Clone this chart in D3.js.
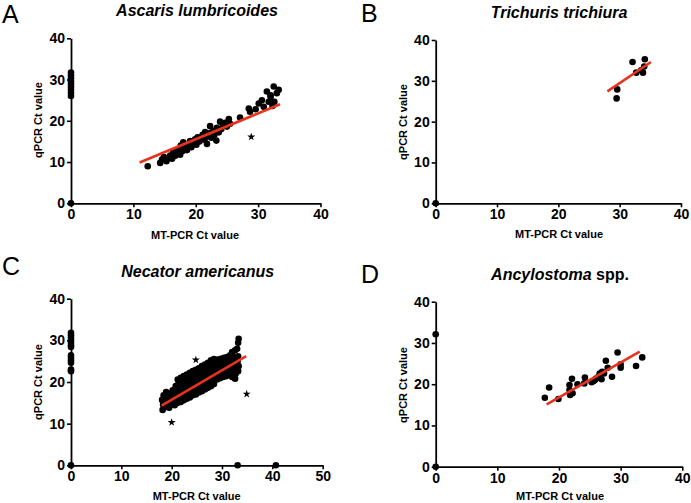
<!DOCTYPE html>
<html><head><meta charset="utf-8">
<script src="https://cdn.jsdelivr.net/npm/d3@7"></script>
<style>
html,body{margin:0;padding:0;background:#fff;}
svg{display:block;font-family:"Liberation Sans",Arial,Helvetica,sans-serif;}
</style></head>
<body>
<svg id="chart" width="691" height="503"></svg>
<script>
// ---------- data ----------
const panelLetters = ["A", "B", "C", "D"];
const speciesItalic = ["Ascaris lumbricoides", "Trichuris trichiura", "Necator americanus", "Ancylostoma"];
const speciesSuffix = ["", "", "", " spp."];
const xLabel = "MT-PCR Ct value";
const yLabel = "qPCR Ct value";
const xTicksAB = [0, 10, 20, 30, 40];
const xTicksC = [0, 10, 20, 30, 40, 50];
const yTicks = [0, 10, 20, 30, 40];

const pointsA = [[0,0],[0,26.0],[0,26.8],[0,27.5],[0,28.2],[0,28.9],[0,29.6],[0,30.3],[0,31.0],[0,31.7],
[12.3,9.0],[14.3,9.8],[14.6,10.6],[14.9,11.2],[15.3,10.2],[15.6,10.9],[15.9,11.6],[16.2,10.8],[16.4,12.4],[16.7,11.5],
[17.0,12.2],[17.2,13.0],[17.5,11.8],[17.6,14.0],[17.9,12.7],[18.0,14.8],[18.3,13.4],[18.6,12.9],[18.8,14.2],[19.1,15.1],
[19.3,13.6],[19.6,14.6],[19.9,15.5],[20.1,14.2],[20.3,16.0],[20.6,15.0],[20.9,15.7],[21.1,16.6],[21.4,15.4],[21.5,17.3],
[21.8,14.4],[21.9,16.2],[22.2,17.0],[22.3,18.7],[22.5,15.9],[22.8,17.6],[23.0,16.6],[23.3,15.2],[23.4,18.3],[23.7,17.2],
[23.9,19.8],[24.1,18.0],[24.4,18.8],[24.7,19.5],[25.0,18.6],[25.3,20.4],[25.5,19.3],[27.1,20.8],[28.5,23.0],[28.7,22.2],
[29.6,22.8],[30.1,24.2],[30.6,25.0],[30.9,23.4],[31.4,27.1],[31.7,24.6],[32.0,25.8],[32.3,23.6],[32.5,28.3],[32.6,24.6],
[33.0,26.7],[33.3,27.5],[32.0,26.2]];
const starsA = [[28.9,16.1]];
const fitA = [[11.0,9.9],[33.5,24.0]];

const pointsB = [[0,0],[29.5,25.7],[29.6,27.9],[32.1,34.6],[32.7,32.0],[33.8,32.0],[34.1,35.3],[34.0,33.5],[33.5,32.6]];
const starsB = [];
const fitB = [[28.0,27.4],[35.1,34.6]];

const pointsC = [[0,0],[0,31.8],[0,31.2],[0,30.6],[0,30.0],[0,29.4],[0,28.8],[0,28.4],[0,26.4],[0,25.8],[0,25.2],[0,24.6],[0,23.0],[0,22.6],
[33.1,0],[40.7,0],
[18.2,13.3],[18.3,14.6],[18.1,15.7],[18.4,16.8],[18.9,14.0],[18.8,15.3],[19.0,16.3],[18.9,17.6],[19.5,13.8],[19.4,15.1],[19.6,16.2],[19.3,17.2],
[20.0,14.6],[20.1,15.8],[19.9,17.1],[20.2,18.0],[20.6,14.4],[20.7,15.6],[20.5,16.7],[20.6,17.9],[20.8,19.0],
[21.2,15.0],[21.3,16.2],[21.1,17.4],[21.2,18.6],[21.4,19.8],[21.2,20.6],[21.8,15.2],[21.9,16.5],[21.7,17.6],[21.8,18.8],[22.0,20.0],[21.8,21.0],
[22.4,15.6],[22.5,16.9],[22.3,18.1],[22.4,19.3],[22.6,20.5],[22.4,21.4],[23.0,16.0],[23.1,17.2],[22.9,18.4],[23.0,19.6],[23.2,20.8],[23.0,21.8],
[23.6,16.3],[23.7,17.5],[23.5,18.8],[23.6,20.0],[23.8,21.2],[23.6,22.2],[24.2,16.8],[24.3,18.0],[24.1,19.2],[24.2,20.4],[24.4,21.6],[24.2,22.6],
[24.8,17.0],[24.9,18.3],[24.7,19.5],[24.8,20.7],[25.0,21.9],[24.8,22.9],[25.4,17.5],[25.5,18.7],[25.3,19.9],[25.4,21.1],[25.6,22.3],[25.4,23.3],
[26.0,17.8],[26.1,19.0],[25.9,20.2],[26.0,21.4],[26.2,22.6],[26.0,23.8],[26.6,18.2],[26.7,19.4],[26.5,20.6],[26.6,21.8],[26.8,23.0],[26.6,24.2],
[27.2,18.6],[27.3,19.8],[27.1,21.0],[27.2,22.2],[27.4,23.4],[27.2,24.6],[27.8,19.0],[27.9,20.3],[27.7,21.5],[27.8,22.7],[28.0,23.9],[27.8,25.2],
[28.4,19.5],[28.5,20.7],[28.3,21.9],[28.4,23.1],[28.6,24.3],[28.4,25.5],[29.0,20.6],[29.1,21.8],[28.9,23.0],[29.0,24.2],[29.2,25.4],
[29.6,20.9],[29.7,22.1],[29.5,23.3],[29.6,24.5],[29.8,25.6],[30.2,21.2],[30.3,22.4],[30.1,23.6],[30.2,24.8],[30.4,25.8],
[30.8,21.4],[30.9,22.6],[30.7,23.8],[30.8,25.0],[31.0,26.0],[31.4,21.8],[31.5,23.0],[31.3,24.2],[31.4,25.4],[31.6,26.4],
[32.0,21.2],[32.1,22.4],[31.9,23.6],[32.0,24.8],[32.2,26.0],[32.0,27.2],[32.6,20.8],[32.7,22.0],[32.5,23.2],[32.6,24.6],[32.8,25.8],[32.6,27.6],
[33.2,22.6],[33.3,23.8],[33.1,25.0],[33.2,26.2],[33.0,28.0],[33.2,29.4],[33.3,30.4]];
const starsC = [[20.0,10.3],[24.8,25.3],[34.9,17.1]];
const fitC = [[18.0,14.3],[34.8,26.2]];

const pointsD = [[0,0],[0,32.1],[17.7,16.7],[18.4,19.2],[19.9,16.4],[22.1,21.3],[21.7,19.8],[21.7,18.6],[21.8,17.4],[22.2,17.8],
[24.1,20.2],[24.2,21.6],[25.3,20.5],[25.8,21.0],[26.4,21.8],[26.6,22.6],[27.3,22.6],[27.6,25.7],[27.9,24.0],[28.6,21.8],
[29.5,27.7],[30.0,24.0],[30.0,24.8],[32.5,24.4],[33.5,26.5],[26.0,21.4],[26.9,21.2],[27.0,23.0],[25.6,20.8],[23.0,20.0]];
const starsD = [];
const fitD = [[18.0,15.1],[33.1,27.9]];

// ---------- layout ----------
const panels = [
  {pts: pointsA, stars: starsA, fit: fitA, xTicks: xTicksAB, xr:[71,320.5], yr:[203.3,38.3],
   letter:[2,23], title:[197,16], xlab:[195,239], ylab:[42,120]},
  {pts: pointsB, stars: starsB, fit: fitB, xTicks: xTicksAB, xr:[435.7,681], yr:[203.3,40],
   letter:[361,22], title:[559,18], xlab:[559,238], ylab:[407,122]},
  {pts: pointsC, stars: starsC, fit: fitC, xTicks: xTicksC, xr:[71,322.7], yr:[465.3,298.7],
   letter:[2,275], title:[197.7,277], xlab:[196.7,500], ylab:[42,382]},
  {pts: pointsD, stars: starsD, fit: fitD, xTicks: xTicksAB, xr:[435.7,682.3], yr:[466.7,301.7],
   letter:[361,283], title:[560,280], xlab:[560,500], ylab:[407,385]}
];

const svg = d3.select("#chart");
const star = d3.symbol().type(d3.symbolStar).size(20);

panels.forEach((p, i) => {
  const xMax = p.xTicks[p.xTicks.length - 1];
  const x = d3.scaleLinear().domain([0, xMax]).range(p.xr);
  const y = d3.scaleLinear().domain([0, 40]).range(p.yr);
  const g = svg.append("g");

  const xa = g.append("g").attr("transform", `translate(0,${p.yr[0]})`)
    .call(d3.axisBottom(x).tickValues(p.xTicks).tickSize(4).tickSizeOuter(0).tickPadding(2));
  const ya = g.append("g").attr("transform", `translate(${p.xr[0]},0)`)
    .call(d3.axisLeft(y).tickValues(yTicks).tickSize(4).tickSizeOuter(0).tickPadding(2));
  [xa, ya].forEach(a => {
    a.attr("font-family", null).attr("font-size", null);
    a.select(".domain").attr("stroke", "#000").attr("stroke-width", 1.8);
    a.selectAll(".tick line").attr("stroke", "#000").attr("stroke-width", 1.6);
    a.selectAll(".tick text").attr("fill", "#000").attr("font-weight", "bold")
      .attr("font-size", 14).style("font-family", "'Liberation Sans',Arial,sans-serif");
  });

  g.append("g").selectAll("circle").data(p.pts).join("circle")
    .attr("cx", d => x(d[0])).attr("cy", d => y(d[1])).attr("r", 3.3).attr("fill", "#000");
  g.append("g").selectAll("path").data(p.stars).join("path")
    .attr("d", star).attr("transform", d => `translate(${x(d[0])},${y(d[1])})`).attr("fill", "#000");

  g.append("line")
    .attr("x1", x(p.fit[0][0])).attr("y1", y(p.fit[0][1]))
    .attr("x2", x(p.fit[1][0])).attr("y2", y(p.fit[1][1]))
    .attr("stroke", "#e8321e").attr("stroke-width", 2.6);

  svg.append("text").attr("x", p.letter[0]).attr("y", p.letter[1])
    .attr("font-size", 25).text(panelLetters[i]);
  const t = svg.append("text").attr("x", p.title[0]).attr("y", p.title[1])
    .attr("text-anchor", "middle").attr("font-size", 16).attr("font-weight", "bold");
  t.append("tspan").attr("font-style", "italic").text(speciesItalic[i]);
  if (speciesSuffix[i]) t.append("tspan").text(speciesSuffix[i]);
  svg.append("text").attr("x", p.xlab[0]).attr("y", p.xlab[1])
    .attr("text-anchor", "middle").attr("font-size", 11).attr("font-weight", "bold").text(xLabel);
  svg.append("text").attr("transform", `translate(${p.ylab[0]},${p.ylab[1]}) rotate(-90)`)
    .attr("text-anchor", "middle").attr("font-size", 11).attr("font-weight", "bold").text(yLabel);
});
</script>
</body></html>
